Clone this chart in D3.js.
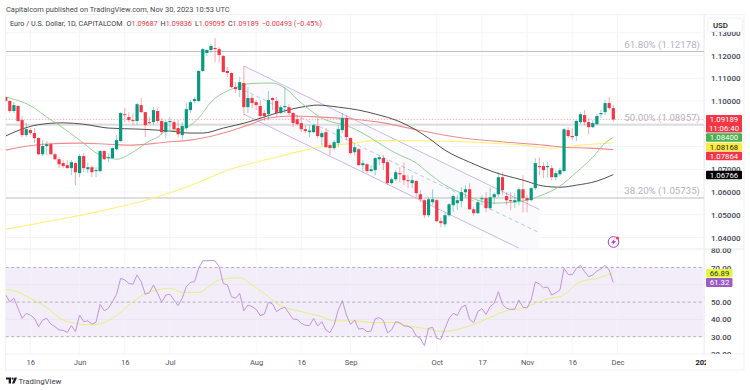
<!DOCTYPE html>
<html>
<head>
<meta charset="utf-8">
<style>
	html, body { margin: 0; padding: 0; background: #fff; }
	svg { display: block; font-family: Roboto, sans-serif; }
</style>
</head>
<body>
<svg width="750" height="390"></svg>

<script src="https://d3js.org/d3.v7.min.js"></script>
<script>

	/*

	EUR/USD daily candles with moving averages, fib levels, a channel and RSI

	*/

	// Candles, one per trading day, May 8 to Nov 30 2023
	const opens = [
		1.1017,1.1000,1.0956,1.0978,1.0916,1.0850,1.0872,1.0859,1.0837,1.0766,
		1.0802,1.0810,1.0766,1.0744,1.0727,1.0718,1.0705,1.0727,1.0683,1.0758,
		1.0700,1.0709,1.0692,1.0692,1.0780,1.0749,1.0749,1.0788,1.0824,1.0942,
		1.0929,1.0916,1.0912,1.0982,1.0951,1.0907,1.0907,1.0956,1.0912,1.0863,
		1.0907,1.0907,1.0881,1.0850,1.0881,1.0960,1.1000,1.1000,1.1132,1.1211,
		1.1224,1.1233,1.1228,1.1198,1.1132,1.1123,1.1061,1.1048,1.1079,1.0973,
		1.1013,1.0995,1.0978,1.0947,1.0942,1.1013,1.1000,1.0947,1.0973,1.0973,
		1.0947,1.0920,1.0903,1.0876,1.0863,1.0863,1.0890,1.0841,1.0863,1.0806,
		1.0793,1.0815,1.0872,1.0925,1.0837,1.0775,1.0788,1.0718,1.0722,1.0692,
		1.0696,1.0744,1.0749,1.0731,1.0639,1.0656,1.0683,1.0674,1.0652,1.0639,
		1.0648,1.0590,1.0564,1.0498,1.0555,1.0564,1.0472,1.0458,1.0498,1.0542,
		1.0551,1.0560,1.0599,1.0612,1.0524,1.0507,1.0568,1.0573,1.0529,1.0577,
		1.0590,1.0665,1.0582,1.0564,1.0555,1.0560,1.0612,1.0573,1.0564,1.0617,
		1.0714,1.0714,1.0709,1.0705,1.0665,1.0678,1.0692,1.0872,1.0846,1.0846,
		1.0907,1.0938,1.0907,1.0885,1.0898,1.0942,1.0951,1.0991,1.09687
	]
	const highs = [
		1.1022,1.1004,1.0995,1.0982,1.0934,1.0903,1.0881,1.0881,1.0841,1.0828,
		1.0824,1.0819,1.0771,1.0753,1.0740,1.0740,1.0740,1.0731,1.0766,1.0771,
		1.0727,1.0718,1.0709,1.0784,1.0784,1.0771,1.0797,1.0850,1.0951,1.0969,
		1.0951,1.0947,1.0991,1.1013,1.0951,1.0929,1.0973,1.0969,1.0925,1.0916,
		1.0929,1.0916,1.0916,1.0907,1.0991,1.1004,1.1017,1.1136,1.1233,1.1228,
		1.1250,1.1277,1.1237,1.1202,1.1149,1.1127,1.1083,1.1105,1.1154,1.1061,
		1.1026,1.1004,1.1004,1.0960,1.1044,1.1017,1.1017,1.0982,1.1061,1.0986,
		1.0951,1.0938,1.0929,1.0894,1.0894,1.0898,1.0925,1.0868,1.0881,1.0815,
		1.0828,1.0894,1.0947,1.0938,1.0841,1.0815,1.0793,1.0740,1.0727,1.0718,
		1.0753,1.0762,1.0762,1.0740,1.0665,1.0696,1.0709,1.0731,1.0674,1.0674,
		1.0652,1.0608,1.0568,1.0577,1.0612,1.0568,1.0489,1.0511,1.0551,1.0590,
		1.0586,1.0621,1.0630,1.0639,1.0533,1.0564,1.0586,1.0599,1.0617,1.0599,
		1.0687,1.0687,1.0599,1.0599,1.0595,1.0621,1.0674,1.0586,1.0621,1.0749,
		1.0753,1.0731,1.0731,1.0718,1.0696,1.0705,1.0881,1.0885,1.0881,1.0916,
		1.0951,1.0960,1.0925,1.0916,1.0942,1.0960,1.1004,1.1017,1.09836
	]
	const lows = [
		1.0995,1.0947,1.0947,1.0907,1.0841,1.0841,1.0850,1.0815,1.0762,1.0758,
		1.0762,1.0762,1.0740,1.0705,1.0705,1.0703,1.0674,1.0630,1.0665,1.0687,
		1.0683,1.0665,1.0665,1.0687,1.0740,1.0731,1.0744,1.0784,1.0819,1.0907,
		1.0907,1.0894,1.0894,1.0947,1.0841,1.0898,1.0894,1.0903,1.0850,1.0837,
		1.0872,1.0872,1.0841,1.0828,1.0872,1.0947,1.0991,1.0995,1.1127,1.1198,
		1.1211,1.1171,1.1171,1.1127,1.1105,1.1057,1.1035,1.1017,1.0938,1.0947,
		1.0969,1.0960,1.0916,1.0912,1.0916,1.0960,1.0929,1.0942,1.0947,1.0938,
		1.0885,1.0894,1.0863,1.0859,1.0841,1.0859,1.0837,1.0806,1.0793,1.0762,
		1.0784,1.0797,1.0859,1.0828,1.0766,1.0762,1.0714,1.0687,1.0683,1.0687,
		1.0674,1.0718,1.0696,1.0630,1.0634,1.0648,1.0643,1.0630,1.0617,1.0617,
		1.0577,1.0555,1.0485,1.0489,1.0542,1.0467,1.0445,1.0445,1.0489,1.0511,
		1.0520,1.0533,1.0577,1.0520,1.0494,1.0502,1.0542,1.0511,1.0520,1.0546,
		1.0577,1.0586,1.0542,1.0520,1.0529,1.0542,1.0511,1.0511,1.0560,1.0608,
		1.0674,1.0661,1.0665,1.0652,1.0652,1.0670,1.0687,1.0837,1.0828,1.0824,
		1.0898,1.0894,1.0854,1.0881,1.0894,1.0925,1.0938,1.0960,1.09095
	]
	const closes = [
		1.1000,1.0956,1.0982,1.0912,1.0850,1.0876,1.0859,1.0837,1.0766,1.0802,
		1.0810,1.0766,1.0744,1.0722,1.0714,1.0705,1.0731,1.0687,1.0758,1.0705,
		1.0709,1.0687,1.0696,1.0780,1.0744,1.0753,1.0793,1.0828,1.0947,1.0938,
		1.0916,1.0914,1.0986,1.0951,1.0894,1.0903,1.0960,1.0912,1.0863,1.0907,
		1.0912,1.0876,1.0854,1.0890,1.0964,1.0995,1.1008,1.1132,1.1228,1.1224,
		1.1242,1.1228,1.1202,1.1127,1.1123,1.1061,1.1052,1.1083,1.0973,1.1013,
		1.0991,1.0982,1.0934,1.0934,1.1004,1.1004,1.0947,1.0973,1.0978,1.0947,
		1.0903,1.0898,1.0876,1.0868,1.0870,1.0894,1.0846,1.0859,1.0797,1.0793,
		1.0819,1.0876,1.0925,1.0841,1.0771,1.0797,1.0718,1.0727,1.0692,1.0700,
		1.0749,1.0753,1.0727,1.0639,1.0656,1.0687,1.0678,1.0652,1.0648,1.0652,
		1.0595,1.0568,1.0498,1.0568,1.0568,1.0472,1.0463,1.0498,1.0546,1.0582,
		1.0564,1.0599,1.0612,1.0524,1.0507,1.0555,1.0573,1.0529,1.0577,1.0590,
		1.0665,1.0608,1.0564,1.0560,1.0564,1.0612,1.0573,1.0564,1.0617,1.0727,
		1.0709,1.0696,1.0714,1.0665,1.0683,1.0696,1.0876,1.0846,1.0841,1.0912,
		1.0942,1.0907,1.0885,1.0903,1.0934,1.0947,1.0991,1.0969,1.09189
	]

	// Moving averages, read at the bends only: [day index, price]
	const smaGreen = [
		[0,1.1017],[7,1.0969],[10,1.0929],[13,1.0894],[18,1.0828],[23,1.0762],[26,1.0747],[27,1.0744],
		[31,1.0775],[35,1.0824],[37,1.0841],[39,1.0868],[43,1.0876],[47,1.0925],[50,1.0995],[55,1.1052],
		[60,1.1077],[65,1.1079],[68,1.1057],[72,1.0991],[77,1.0925],[84,1.0885],[89,1.0837],[92,1.0802],
		[95,1.0771],[100,1.0727],[103,1.0683],[107,1.0630],[111,1.0595],[115,1.0564],[119,1.0551],
		[123,1.0555],[127,1.0564],[130,1.0582],[135,1.0626],[139,1.0687],[143,1.0753],[146,1.0815],[148,1.0840]
	]
	const smaBlack = [
		[0,1.0846],[3,1.0870],[8,1.0896],[14,1.0904],[19,1.0898],[25,1.0881],[33,1.0876],[40,1.0868],
		[45,1.0859],[48,1.0859],[53,1.0881],[59,1.0907],[66,1.0947],[72,1.0973],[76,1.0982],[81,1.0973],
		[86,1.0960],[91,1.0938],[95,1.0916],[100,1.0872],[103,1.0837],[107,1.0784],[113,1.0731],
		[119,1.0687],[126,1.0652],[131,1.0626],[135,1.0621],[139,1.0630],[144,1.0648],[148,1.06766]
	]
	const smaRed = [
		[0,1.0784],[9,1.0810],[18,1.0815],[25,1.0810],[31,1.0806],[39,1.0819],[45,1.0828],[48,1.0837],
		[53,1.0859],[59,1.0894],[64,1.0925],[70,1.0934],[77,1.0929],[85,1.0920],[91,1.0907],[100,1.0874],
		[110,1.0841],[122,1.0819],[131,1.0806],[136,1.0797],[142,1.0793],[148,1.07864]
	]
	const smaYellow = [
		[0,1.0436],[12,1.0476],[23,1.0516],[35,1.0568],[47,1.0643],[54,1.0696],[61,1.0731],[68,1.0762],
		[76,1.0797],[85,1.0815],[90,1.0826],[106,1.0824],[114,1.0819],[126,1.0806],[133,1.0793],[140,1.0806],[148,1.08168]
	]

	// RSI, one value per day
	const rsi = [
		54.1,50.2,52.2,46.4,40.6,43.5,42.5,40.6,35.8,39.6,
		40.6,37.3,35.8,33.9,33.7,32.5,36.4,32.9,42.5,38.7,
		39.1,37.3,38.3,48.7,45.0,46.4,50.2,54.5,63.7,62.8,
		60.8,60.3,65.7,61.8,54.5,55.4,59.9,55.1,49.9,54.1,
		54.5,51.2,47.9,52.2,58.9,61.4,61.8,69.5,73.9,73.9,
		74.1,73.8,70.5,60.8,59.9,53.1,52.2,55.1,45.0,48.3,
		47.4,45.8,42.2,43.1,49.9,48.9,44.5,46.2,47.0,43.5,
		40.2,40.0,37.7,36.6,36.4,40.6,36.2,38.7,33.9,32.3,
		36.8,45.4,50.8,42.5,37.1,39.6,34.4,34.8,32.9,33.3,
		40.4,41.0,39.3,32.3,33.9,38.7,38.1,36.2,36.0,34.8,
		30.4,29.0,24.8,34.8,35.4,29.0,28.5,34.8,40.6,43.5,
		42.3,47.0,48.3,40.0,38.1,44.5,46.2,42.9,47.4,49.3,
		56.0,48.7,46.4,45.8,46.0,51.2,47.0,46.6,51.2,61.6,
		60.5,58.3,58.7,54.1,55.4,57.0,69.5,66.0,65.8,69.5,
		71.2,67.6,64.7,65.7,68.0,69.1,71.2,68.5,61.32
	]
	const rsiMa = [
		[0,57.4],[2,56.6],[6,52.2],[10,46.8],[14,39.6],[17,37.7],[21,36.8],[26,40.6],[31,50.2],[34,55.1],
		[37,57.0],[40,58.0],[43,55.6],[47,55.6],[50,59.9],[52,62.8],[57,64.1],[60,59.9],[64,53.1],[66,49.3],
		[72,44.5],[77,41.6],[80,39.1],[85,39.1],[90,38.1],[94,38.3],[98,36.2],[102,34.8],[106,33.1],[109,33.7],
		[113,36.2],[118,41.2],[122,45.0],[126,46.4],[129,49.3],[133,52.5],[135,53.1],[140,61.8],[144,63.7],[148,66.89]
	]

	// Ticks and labels. 1.08, 1.09 and 60 sit hidden behind the value pills
	const timeTicks = [6, 18, 29, 40, 61, 72, 84, 105, 116, 127, 138, 149, 170]
	const timeLabels = ["16", "Jun", "16", "Jul", "Aug", "16", "Sep", "Oct", "17", "Nov", "16", "Dec", "2024"]
	const priceGrid = [1.04, 1.05, 1.06, 1.07, 1.08, 1.09, 1.10, 1.11, 1.12, 1.13]
	const priceTicks = [1.04, 1.05, 1.06, 1.07, 1.10, 1.11, 1.12, 1.13]
	const rsiTicks = [20, 30, 40, 50, 70, 80]

	// Fibonacci levels and the drawn channel
	const fibLevels = [
		{label: "61.80% (1.12178)", price: 1.12178},
		{label: "50.00% (1.08957)", price: 1.08957},
		{label: "38.20% (1.05735)", price: 1.05735}
	]
	const channelStart = 58
	const channelEnd = 130
	const channelTop = [1.1154, 1.0523]
	const channelMid = [1.1048, 1.0421]
	const channelBottom = [1.0942, 1.0309]

	// Value pills on the right axis: text, fill, text colour
	const lastPrice = 1.09189
	const maPills = [
		{text: "1.08400", fill: "#4caf50", color: "#fff", y: 137.5},
		{text: "1.08168", fill: "#ffeb3b", color: "#222", y: 147},
		{text: "1.07864", fill: "#f23645", color: "#fff", y: 156},
		{text: "1.06766", fill: "#000", color: "#fff", y: 175}
	]

	const header = "Capitalcom published on TradingView.com, Nov 30, 2023 10:53 UTC"
	const legendName = "Euro / U.S. Dollar, 1D, CAPITALCOM"
	const legendValues = [["O", "1.09687"], ["H", "1.09836"], ["L", "1.09095"], ["C", "1.09189"]]
	const legendChange = "\u22120.00493 (\u22120.45%)"

	const upColor = "#089981"
	const downColor = "#f23645"
	const gridColor = "#f3f4f8"

	// Layout
	const left = 5.7
	const paneRight = 704.5
	const frameRight = 744
	const mainTop = 14.5
	const mainBottom = 248.5
	const rsiBottom = 354

	const x = d3.scaleLinear().domain([0, 148]).range([left, 613.3])
	const y = d3.scaleLinear().domain([1.04, 1.12]).range([237.5, 55.5])
	const yRsi = d3.scaleLinear().domain([30, 70]).range([336.7, 267.5])

	const svg = d3.select("svg")

	const defs = svg.append("defs")
	const addClip = (id, x0, y0, w, h) => defs.append("clipPath").attr("id", id)
		.append("rect").attr("x", x0).attr("y", y0).attr("width", w).attr("height", h)
	addClip("main-clip", left, mainTop, paneRight - left, mainBottom - mainTop)
	addClip("rsi-clip", left, mainBottom, paneRight - left, rsiBottom - mainBottom)
	addClip("price-axis-clip", paneRight, 32, frameRight - paneRight, mainBottom - 32)
	addClip("rsi-axis-clip", paneRight, mainBottom, frameRight - paneRight, rsiBottom - mainBottom)
	addClip("time-clip", left, rsiBottom, paneRight + 1.5 - left, 16)

	// Header above the frame
	svg.append("text").attr("x", 6).attr("y", 11.5)
		.attr("font-size", 7.45).attr("fill", "#4a4a4a").text(header)

	// Frame
	svg.append("rect").attr("x", left).attr("y", mainTop)
		.attr("width", frameRight - left).attr("height", 370 - mainTop)
		.attr("fill", "none").attr("stroke", "#f0f1f4")

	// ---------------------------------- main pane
	const main = svg.append("g").attr("clip-path", "url(#main-clip)")

	main.append("g").selectAll("line").data(timeTicks).join("line")
		.attr("x1", d => x(d)).attr("x2", d => x(d))
		.attr("y1", mainTop).attr("y2", mainBottom)
		.attr("stroke", gridColor)
	main.append("g").selectAll("line").data(priceGrid).join("line")
		.attr("x1", left).attr("x2", paneRight)
		.attr("y1", d => y(d)).attr("y2", d => y(d))
		.attr("stroke", gridColor)

	// Channel: faint fill, purple edges, dashed blue middle
	main.append("path")
		.attr("d", d3.area().x(d => x(d[0])).y0(d => y(d[1])).y1(d => y(d[2]))([
			[channelStart, channelTop[0], channelBottom[0]],
			[channelEnd, channelTop[1], channelBottom[1]]
		]))
		.attr("fill", "#fafafc")

	// Fib levels
	main.append("g").selectAll("line").data(fibLevels).join("line")
		.attr("x1", left).attr("x2", paneRight)
		.attr("y1", d => y(d.price)).attr("y2", d => y(d.price))
		.attr("stroke", (d, i) => i === 1 ? "#dddddd" : "#bdbdc2")
		.attr("stroke-width", (d, i) => i === 1 ? 2.2 : 1)
	main.append("g").selectAll("text").data(fibLevels).join("text")
		.attr("x", 700).attr("y", d => y(d.price) - 3.8)
		.attr("text-anchor", "end").attr("font-size", 9.7)
		.attr("fill", "#b2b5be").text(d => d.label)

	// Last price line
	main.append("line")
		.attr("x1", left).attr("x2", paneRight)
		.attr("y1", y(lastPrice)).attr("y2", y(lastPrice))
		.attr("stroke", "#f7a6ad").attr("stroke-width", 0.8).attr("stroke-dasharray", "1.5 1.5")

	const channelLine = (prices, color, dash) => main.append("line")
		.attr("x1", x(channelStart)).attr("x2", x(channelEnd))
		.attr("y1", y(prices[0])).attr("y2", y(prices[1]))
		.attr("stroke", color).attr("stroke-width", 0.9)
		.attr("stroke-dasharray", dash)
	channelLine(channelTop, "#c3b1e6", null)
	channelLine(channelBottom, "#c3b1e6", null)
	channelLine(channelMid, "#a9c4f2", "4 3")

	// Moving averages
	const maLine = d3.line().x(d => x(d[0])).y(d => y(d[1])).curve(d3.curveMonotoneX)
	const drawMa = (data, color, width) => main.append("path")
		.attr("d", maLine(data)).attr("fill", "none")
		.attr("stroke", color).attr("stroke-width", width)
	drawMa(smaYellow, "#fff07a", 1.1)
	drawMa(smaRed, "#f08c8f", 1.1)
	drawMa(smaBlack, "#3c3c3c", 0.9)
	drawMa(smaGreen, "#8ccb8c", 0.9)

	// Candles
	const candles = opens.map((o, i) => ({i, o, h: highs[i], l: lows[i], c: closes[i]}))
	const candleColor = d => d.c >= d.o ? upColor : downColor

	main.append("g").selectAll("line").data(candles).join("line")
		.attr("x1", d => x(d.i)).attr("x2", d => x(d.i))
		.attr("y1", d => y(d.h)).attr("y2", d => y(d.l))
		.attr("stroke", candleColor).attr("stroke-width", 0.7).attr("stroke-opacity", 0.6)
	main.append("g").selectAll("rect").data(candles).join("rect")
		.attr("x", d => x(d.i) - 1.6).attr("width", 3.2)
		.attr("y", d => y(Math.max(d.o, d.c)))
		.attr("height", d => Math.max(1, Math.abs(y(d.o) - y(d.c))))
		.attr("fill", candleColor)

	// Little purple flash icon
	const icon = svg.append("g").attr("transform", "translate(613.5,242)")
	icon.append("circle").attr("r", 5.3).attr("fill", "#fff")
		.attr("stroke", "#b53cc4").attr("stroke-width", 1)
	icon.append("path").attr("d", "M1.2,-3.4 L-2.4,0.7 L-0.3,0.7 L-1.2,3.4 L2.4,-0.9 L0.3,-0.9 Z").attr("fill", "#b53cc4")
	icon.append("circle").attr("cx", 4).attr("cy", -4).attr("r", 1.5).attr("fill", "#f23645")

	// ---------------------------------- RSI pane
	svg.append("line")
		.attr("x1", left).attr("x2", frameRight)
		.attr("y1", mainBottom + 0.5).attr("y2", mainBottom + 0.5)
		.attr("stroke", "#eef0f4").attr("stroke-width", 1.5)

	const pane = svg.append("g").attr("clip-path", "url(#rsi-clip)")
	pane.append("rect")
		.attr("x", left).attr("width", paneRight - left)
		.attr("y", yRsi(70)).attr("height", yRsi(30) - yRsi(70))
		.attr("fill", "#f2edf9")
	pane.append("g").selectAll("line").data(timeTicks).join("line")
		.attr("x1", d => x(d)).attr("x2", d => x(d))
		.attr("y1", mainBottom).attr("y2", rsiBottom)
		.attr("stroke", gridColor).attr("stroke-opacity", 0.8)
	pane.append("g").selectAll("line").data([40, 60]).join("line")
		.attr("x1", left).attr("x2", paneRight)
		.attr("y1", d => yRsi(d)).attr("y2", d => yRsi(d))
		.attr("stroke", "#e9e6f1")
	pane.append("g").selectAll("line").data([30, 50, 70]).join("line")
		.attr("x1", left).attr("x2", paneRight)
		.attr("y1", d => yRsi(d)).attr("y2", d => yRsi(d))
		.attr("stroke", "#b4b0ba").attr("stroke-dasharray", "3 2.5")

	pane.append("path")
		.attr("d", d3.line().x(d => x(d[0])).y(d => yRsi(d[1])).curve(d3.curveMonotoneX)(rsiMa))
		.attr("fill", "none").attr("stroke", "#e6ef7e").attr("stroke-width", 1)
	pane.append("path")
		.attr("d", d3.line().x((d, i) => x(i)).y(d => yRsi(d))(rsi))
		.attr("fill", "none").attr("stroke", "#c293e0").attr("stroke-width", 1)

	// ---------------------------------- axes
	svg.append("line").attr("x1", paneRight).attr("x2", paneRight)
		.attr("y1", mainTop).attr("y2", rsiBottom).attr("stroke", "#f0f1f4")
	svg.append("line").attr("x1", left).attr("x2", frameRight)
		.attr("y1", rsiBottom).attr("y2", rsiBottom).attr("stroke", "#f0f1f4")

	const styleAxis = (g, size) => {
		g.select(".domain").remove()
		g.selectAll(".tick line").remove()
		g.selectAll("text").attr("font-size", size).attr("fill", "#434651")
			.attr("font-family", "Roboto, sans-serif").attr("font-weight", 500)
	}

	const priceAxis = svg.append("g")
		.attr("clip-path", "url(#price-axis-clip)")
		.append("g")
		.attr("transform", `translate(${711 - 3},0)`)
		.call(d3.axisRight(y).tickValues(priceTicks).tickSize(0).tickPadding(3).tickFormat(d3.format(".5f")))
		.call(styleAxis, 8)

	const rsiAxis = svg.append("g")
		.attr("clip-path", "url(#rsi-axis-clip)")
		.append("g")
		.attr("transform", `translate(${711 - 3},0)`)
		.call(d3.axisRight(yRsi).tickValues(rsiTicks).tickSize(0).tickPadding(3).tickFormat(d3.format(".2f")))
		.call(styleAxis, 8)

	const timeAxis = svg.append("g")
		.attr("clip-path", "url(#time-clip)")
		.append("g")
		.attr("transform", `translate(0,${rsiBottom + 2.5})`)
		.call(d3.axisBottom(x).tickValues(timeTicks).tickSize(0).tickPadding(3)
			.tickFormat((d, i) => timeLabels[i]))
		.call(styleAxis, 7.6)
	timeAxis.selectAll("text").attr("font-weight", d => d === 170 ? 700 : 400).attr("fill", d => d === 170 ? "#131722" : "#50535e")

	// USD button
	svg.append("rect").attr("x", 708).attr("y", 18).attr("width", 34.5).attr("height", 13.5).attr("rx", 2.5)
		.attr("fill", "#fff").attr("stroke", "#f0f1f4")
	svg.append("text").attr("x", 713).attr("y", 27.5).attr("font-size", 7.8).attr("font-weight", 500)
		.attr("fill", "#131722").text("USD")

	// Legend row
	const legend = svg.append("text").attr("x", 10).attr("y", 26).attr("font-size", 7.2).attr("fill", "#3a3d47")
	legend.append("tspan").text(legendName)
	legendValues.forEach(([key, value], i) => {
		legend.append("tspan").attr("dx", i === 0 ? 4 : 3).text(key)
		legend.append("tspan").attr("fill", downColor).text(value)
	})
	legend.append("tspan").attr("dx", 3).attr("fill", downColor).text(legendChange)

	// Pills on the right axis
	const pills = svg.append("g").attr("text-anchor", "middle").attr("font-size", 7.8)

	pills.append("rect").attr("x", 706).attr("y", 115).attr("width", 36).attr("height", 17.5).attr("rx", 1).attr("fill", downColor)
	pills.append("text").attr("x", 724).attr("y", 122).attr("fill", "#fff").text(d3.format(".5f")(lastPrice))
	pills.append("text").attr("x", 724).attr("y", 130.5).attr("fill", "#fff").text("11:06:40")

	maPills.forEach(p => {
		pills.append("rect").attr("x", 706).attr("y", p.y - 4.3).attr("width", 36).attr("height", 8.6).attr("rx", 1).attr("fill", p.fill)
		pills.append("text").attr("x", 724).attr("y", p.y + 2.8).attr("fill", p.color).text(p.text)
	})

	pills.append("rect").attr("x", 706).attr("y", 269).attr("width", 26.5).attr("height", 8.6).attr("rx", 1).attr("fill", "#e4f53c")
	pills.append("text").attr("x", 719.5).attr("y", 276.1).attr("fill", "#333").text(d3.format(".2f")(rsiMa[rsiMa.length - 1][1]))
	pills.append("rect").attr("x", 706).attr("y", 278).attr("width", 26.5).attr("height", 9).attr("rx", 1).attr("fill", "#9c5cc4")
	pills.append("text").attr("x", 719.5).attr("y", 285.3).attr("fill", "#fff").text(d3.format(".2f")(rsi[rsi.length - 1]))

	// TradingView mark at the bottom
	const logo = svg.append("g").attr("transform", "translate(6,377.5)").attr("fill", "#131722")
	logo.append("path").attr("d", "M0,0 H5 V6 H2.7 V2 H0 Z")
	logo.append("circle").attr("cx", 6.6).attr("cy", 1.1).attr("r", 1.1)
	logo.append("path").attr("d", "M8.6,0 H11 L8.4,6 H6 Z")
	svg.append("text").attr("x", 18.5).attr("y", 383.5).attr("font-size", 7.8).attr("fill", "#3a3d47").text("TradingView")

</script>
</body>
</html>
